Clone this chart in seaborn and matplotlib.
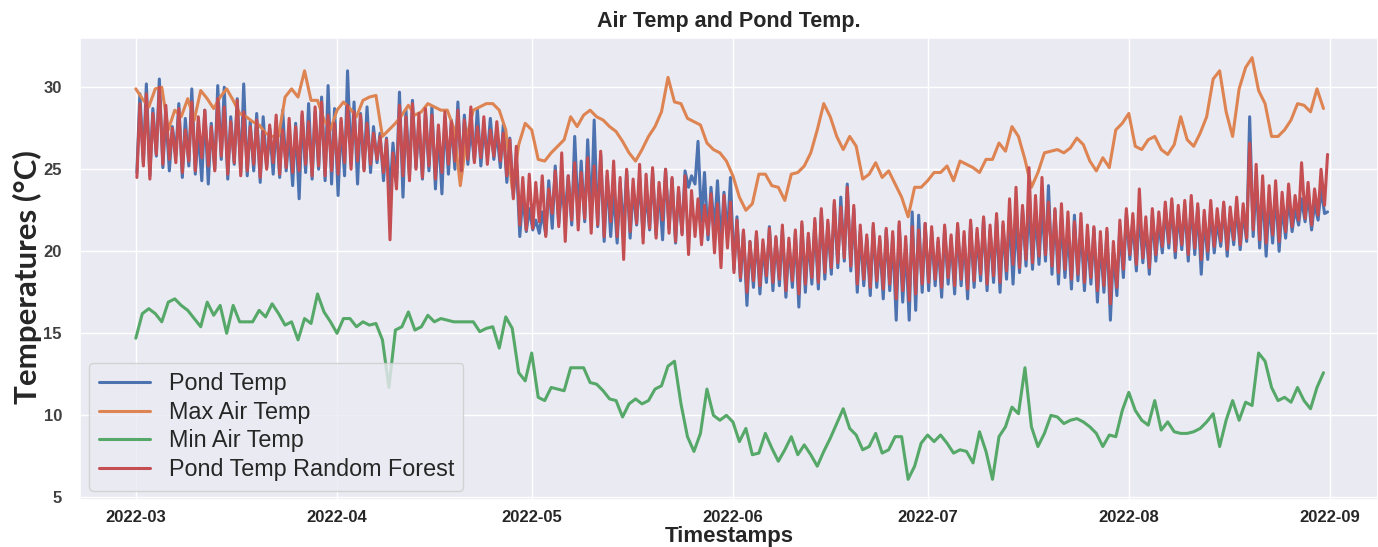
import pandas as pd
import matplotlib
matplotlib.use('Agg')
import matplotlib.pyplot as plt
import matplotlib.dates as mdates
import seaborn as sns

# daily values, 2022-03-01 .. 2022-08-31 (one list chunk per month)
max_air = [29.9, 29.3, 28.8, 29.9, 30.0, 27.4, 28.6, 28.2, 29.3, 28.0, 29.8, 29.3, 28.7, 29.4, 29.9, 29.2,
           28.4, 28.2, 27.9, 27.7, 27.2, 27.0, 27.0, 29.4, 29.9, 29.4, 31.0, 29.2, 29.2, 28.0, 27.4,
           28.6, 29.1, 28.7, 28.2, 29.2, 29.4, 29.5, 27.0, 27.4, 27.8, 28.3, 28.9, 28.3, 28.5, 29.0,
           28.8, 28.6, 28.6, 27.5, 24.0, 27.0, 28.6, 28.8, 29.0, 29.0, 28.6, 27.4, 23.8, 26.5, 27.8,
           27.4, 25.6, 25.5, 26.0, 26.4, 26.8, 28.2, 27.6, 28.3, 28.6, 28.2, 28.0, 27.6, 27.3, 26.7, 26.0,
           25.5, 26.2, 27.0, 27.6, 28.5, 30.6, 29.1, 29.0, 28.1, 27.9, 27.7, 26.6, 26.2, 26.0, 25.5,
           24.6, 23.3, 22.5, 22.9, 24.7, 24.7, 24.0, 23.9, 23.1, 24.7, 24.8, 25.2, 26.0, 27.4, 29.0,
           28.2, 27.0, 26.2, 27.0, 26.4, 24.4, 24.7, 25.4, 24.5, 24.9, 24.1, 23.3, 22.1, 23.9, 23.9,
           24.3, 24.8, 24.8, 25.2, 24.3, 25.5, 25.3, 25.1, 24.8, 25.6, 25.6, 26.6, 26.1, 27.6, 27.0, 25.6,
           23.9, 24.8, 26.0, 26.1, 26.2, 26.0, 26.3, 26.9, 26.5, 25.5, 24.9, 25.7, 25.1, 27.4, 27.8,
           28.4, 26.4, 26.2, 26.8, 27.0, 26.2, 25.9, 26.5, 28.2, 26.8, 26.4, 27.2, 28.2, 30.5, 31.0, 28.5,
           27.0, 29.9, 31.2, 31.8, 29.8, 29.0, 27.0, 27.0, 27.4, 28.0, 29.0, 28.9, 28.5, 29.9, 28.7]

min_air = [14.7, 16.2, 16.5, 16.2, 15.7, 16.9, 17.1, 16.7, 16.4, 15.9, 15.4, 16.9, 16.1, 16.7, 15.0, 16.7,
           15.7, 15.7, 15.7, 16.4, 16.0, 16.8, 16.2, 15.5, 15.7, 14.6, 15.9, 15.6, 17.4, 16.3, 15.7,
           15.0, 15.9, 15.9, 15.4, 15.7, 15.5, 15.6, 14.6, 11.7, 15.2, 15.4, 16.3, 15.2, 15.4, 16.1,
           15.7, 15.9, 15.8, 15.7, 15.7, 15.7, 15.7, 15.1, 15.3, 15.4, 14.1, 16.0, 15.3, 12.6, 12.1,
           13.8, 11.1, 10.9, 11.7, 11.6, 11.5, 12.9, 12.9, 12.9, 12.0, 11.9, 11.5, 11.0, 10.9, 9.9, 10.7,
           11.0, 10.7, 10.9, 11.6, 11.8, 13.0, 13.3, 10.7, 8.7, 7.8, 8.9, 11.6, 10.0, 9.7, 10.0,
           9.6, 8.4, 9.2, 7.6, 7.7, 8.9, 8.0, 7.2, 7.9, 8.7, 7.6, 8.2, 7.6, 6.9, 7.8,
           8.6, 9.5, 10.4, 9.2, 8.8, 7.9, 8.1, 8.9, 7.7, 7.9, 8.7, 8.7, 6.1, 6.9, 8.3,
           8.8, 8.4, 8.8, 8.3, 7.7, 7.9, 7.8, 7.1, 9.0, 7.8, 6.1, 8.7, 9.3, 10.5, 10.1, 12.9,
           9.3, 8.1, 8.9, 10.0, 9.9, 9.5, 9.7, 9.8, 9.6, 9.3, 8.9, 8.1, 8.8, 8.7, 10.3,
           11.4, 10.3, 9.7, 9.4, 10.9, 9.1, 9.6, 9.0, 8.9, 8.9, 9.0, 9.2, 9.6, 10.1, 8.1, 9.7,
           10.9, 9.7, 10.8, 10.6, 13.8, 13.3, 11.7, 10.9, 11.1, 10.8, 11.7, 10.9, 10.4, 11.7, 12.6]

# pond sensor: afternoon high / early morning low per day
pond_hi = [29.6, 30.2, 28.7, 30.5, 28.4, 27.6, 29.0, 28.1, 29.9, 27.3, 28.6, 27.8, 30.1, 30.0, 28.2, 29.3,
           30.2, 27.9, 28.4, 28.2, 27.5, 27.9, 28.6, 27.2, 27.8, 28.3, 29.0, 28.5, 29.4, 30.1, 28.7,
           27.9, 31.0, 29.1, 28.4, 28.8, 27.6, 27.2, 26.9, 26.6, 29.7, 28.6, 29.2, 27.9, 28.5, 28.8,
           27.4, 28.2, 28.0, 29.1, 28.3, 27.6, 28.7, 27.5, 28.1, 27.3, 27.7, 26.9, 25.6, 23.4, 22.6,
           21.9, 22.4, 24.3, 25.2, 23.8, 24.6, 27.0, 25.5, 26.8, 28.0, 25.9, 24.6, 23.7, 24.2, 24.9, 23.8,
           24.5, 23.6, 24.8, 23.9, 25.0, 24.4, 23.7, 24.9, 24.6, 26.7, 24.8, 23.9, 24.3, 23.6, 24.5,
           22.1, 21.2, 20.6, 21.0, 20.4, 21.5, 20.8, 21.3, 20.5, 21.1, 21.6, 20.9, 21.8, 22.4, 21.7,
           22.9, 23.3, 24.1, 22.6, 21.2, 20.8, 21.5, 20.7, 21.3, 20.9, 21.6, 20.4, 22.4, 22.2, 21.7,
           21.2, 20.6, 21.4, 20.8, 21.5, 20.9, 21.7, 21.1, 22.0, 21.3, 22.0, 21.6, 22.3, 21.8, 22.6, 23.0,
           22.4, 22.8, 24.0, 22.5, 22.1, 21.4, 22.2, 21.6, 21.0, 21.4, 20.6, 21.2, 20.0, 21.5, 22.3,
           21.9, 22.5, 21.6, 22.2, 21.8, 22.6, 22.9, 22.4, 22.8, 23.0, 22.7, 22.1, 22.6, 21.9, 22.8, 22.3,
           22.7, 22.4, 28.2, 24.3, 23.8, 23.1, 23.6, 22.8, 23.3, 22.6, 23.2, 23.5, 22.9, 23.8, 22.4]
pond_lo = [24.8, 25.4, 24.6, 25.8, 25.1, 24.9, 25.9, 24.5, 25.2, 24.7, 24.3, 24.1, 25.0, 25.6, 24.4, 25.3,
           24.8, 24.6, 24.9, 24.2, 25.1, 24.7, 24.5, 24.9, 24.0, 23.2, 24.8, 24.4, 25.0, 24.3, 24.1,
           23.4, 24.6, 25.3, 24.1, 25.0, 24.8, 25.4, 24.3, 23.5, 24.2, 23.3, 24.6, 25.1, 24.4, 24.9,
           23.8, 23.5, 24.7, 25.0, 24.6, 25.3, 25.5, 25.2, 25.8, 25.6, 25.1, 24.2, 23.4, 20.9, 21.2,
           21.3, 21.1, 21.0, 21.4, 21.7, 22.3, 21.6, 22.1, 21.8, 22.0, 21.5, 20.6, 20.9, 20.5, 21.2, 20.8,
           21.6, 20.9, 21.3, 21.0, 20.7, 21.4, 20.5, 21.1, 23.9, 24.1, 21.8, 20.7, 21.2, 20.4, 21.0,
           18.9, 18.2, 16.7, 17.8, 17.4, 18.1, 17.6, 17.9, 17.2, 17.8, 16.6, 17.5, 18.0, 17.7, 18.3,
           18.6, 19.0, 19.4, 18.8, 17.5, 17.9, 17.3, 17.8, 17.1, 17.6, 15.8, 16.9, 15.8, 16.4, 17.5,
           17.6, 17.9, 17.2, 18.0, 17.4, 17.9, 17.1, 17.8, 18.2, 17.6, 18.1, 17.5, 18.3, 18.0, 18.7, 19.1,
           18.9, 19.2, 19.4, 18.6, 18.0, 18.4, 17.7, 18.2, 17.6, 18.0, 16.9, 17.5, 15.8, 17.3, 18.4,
           19.5, 18.8, 19.3, 18.6, 19.4, 19.9, 20.2, 19.6, 20.1, 19.4, 19.8, 18.6, 19.5, 19.9, 20.3, 19.7,
           20.4, 20.1, 20.6, 20.9, 20.2, 19.7, 20.5, 20.0, 20.8, 21.2, 21.6, 21.8, 21.3, 21.9, 22.3]

# random forest prediction of the pond temperature
rf_hi = [29.0, 29.6, 28.4, 30.0, 28.9, 27.5, 28.7, 27.4, 29.1, 28.2, 28.6, 27.6, 29.3, 28.8, 27.9, 29.2,
         28.5, 27.6, 28.0, 27.3, 27.7, 28.3, 27.4, 28.1, 27.6, 28.5, 27.9, 28.8, 29.1, 28.3, 27.8,
         28.1, 28.9, 28.5, 28.3, 27.8, 27.2, 27.0, 26.8, 26.0, 28.9, 28.2, 29.0, 28.4, 28.7, 28.3,
         27.7, 28.5, 27.9, 28.6, 28.0, 28.8, 27.6, 28.2, 27.4, 27.9, 27.2, 26.8, 26.4, 24.5, 24.7,
         24.2, 24.6, 23.8, 24.9, 26.0, 24.6, 25.4, 24.8, 25.7, 25.2, 26.1, 24.9, 25.5, 24.5, 25.0, 24.4,
         25.3, 24.7, 25.1, 24.2, 25.0, 24.5, 23.9, 24.6, 23.7, 23.2, 22.8, 23.5, 22.9, 23.4, 23.0,
         21.9, 21.3, 20.6, 21.2, 20.7, 21.4, 20.9, 21.6, 20.8, 21.3, 21.8, 21.1, 22.0, 22.6, 21.9,
         23.1, 22.7, 23.9, 22.8, 21.6, 21.0, 21.7, 20.9, 21.4, 21.2, 21.8, 20.9, 21.5, 21.3, 21.7,
         21.5, 20.8, 21.6, 21.0, 21.7, 21.2, 21.9, 21.4, 22.1, 21.6, 22.3, 21.8, 23.2, 23.9, 22.8, 25.1,
         23.4, 24.5, 23.0, 22.6, 22.9, 22.4, 21.8, 22.3, 21.6, 21.5, 21.2, 21.4, 20.6, 21.9, 22.6,
         22.3, 23.8, 22.1, 22.6, 22.4, 23.0, 23.2, 22.8, 23.1, 23.4, 22.9, 22.5, 23.1, 22.6, 23.0, 22.7,
         23.3, 22.9, 26.6, 25.3, 24.6, 24.0, 24.3, 23.6, 24.1, 23.4, 25.4, 24.2, 23.8, 25.0, 25.9]
rf_lo = [24.5, 25.2, 24.4, 25.9, 25.3, 25.6, 25.4, 24.8, 25.5, 24.9, 25.7, 25.2, 24.9, 25.8, 24.7, 25.4,
         24.6, 24.9, 25.3, 24.5, 25.0, 25.4, 24.7, 25.1, 24.8, 24.9, 25.3, 24.6, 25.2, 24.6, 24.9,
         24.7, 25.4, 25.0, 25.5, 24.9, 25.3, 25.6, 24.8, 20.7, 23.8, 24.6, 24.3, 25.0, 24.5, 25.2,
         24.4, 24.8, 25.3, 25.5, 24.9, 25.6, 25.4, 25.7, 25.3, 25.8, 25.5, 24.6, 23.2, 21.6, 21.3,
         21.4, 21.8, 20.9, 22.3, 21.5, 20.6, 21.9, 21.3, 22.0, 21.1, 21.6, 20.9, 21.8, 20.9, 19.5, 21.2,
         21.7, 20.5, 21.4, 20.8, 21.9, 21.1, 20.6, 21.0, 19.8, 20.9, 20.4, 21.0, 19.9, 19.0, 20.2,
         18.7, 18.4, 17.5, 18.2, 17.9, 18.5, 18.1, 18.3, 17.6, 18.2, 17.4, 18.0, 18.4, 18.1, 18.7,
         19.0, 19.3, 19.6, 19.1, 18.0, 18.3, 17.8, 18.2, 17.7, 18.0, 17.1, 17.6, 17.0, 17.4, 18.0,
         18.1, 18.3, 17.8, 18.4, 17.9, 18.3, 17.7, 18.2, 18.6, 18.0, 18.5, 18.1, 18.8, 19.2, 19.0, 19.5,
         19.3, 19.7, 19.8, 19.1, 18.7, 18.9, 18.3, 18.6, 18.1, 18.4, 17.6, 17.9, 16.8, 17.8, 18.9,
         19.8, 19.2, 19.6, 19.0, 19.8, 20.3, 20.5, 20.0, 20.4, 19.8, 20.2, 19.5, 20.0, 20.3, 20.6, 20.1,
         20.7, 20.4, 20.8, 21.3, 20.7, 20.5, 21.0, 20.6, 21.2, 21.5, 21.9, 22.0, 21.6, 22.2, 22.8]

days = pd.date_range('2022-03-01', periods=len(max_air), freq='D')

# interleave the morning low and afternoon high of each day
pond_times, pond_vals, rf_vals = [], [], []
for i, d in enumerate(days):
    pond_times += [d + pd.Timedelta(hours=4), d + pd.Timedelta(hours=15)]
    pond_vals += [pond_lo[i], pond_hi[i]]
    rf_vals += [rf_lo[i], rf_hi[i]]

pond_df = pd.DataFrame({'Timestamp': pond_times, 'Pond Temp': pond_vals,
                        'Pond Temp Random Forest': rf_vals})
air_df = pd.DataFrame({'Timestamp': days, 'Max Air Temp': max_air, 'Min Air Temp': min_air})

sns.set_theme(style='darkgrid')
plt.rcParams['font.family'] = ['Liberation Sans', 'DejaVu Sans']
colors = sns.color_palette('deep')

fig = plt.figure(figsize=(13.78, 5.47), dpi=100)
ax = fig.add_axes([80 / 1378, 47 / 547, 1298 / 1378, 462 / 547])

sns.lineplot(data=pond_df, x='Timestamp', y='Pond Temp', color=colors[0], lw=2.2, label='Pond Temp', ax=ax)
sns.lineplot(data=air_df, x='Timestamp', y='Max Air Temp', color=colors[1], lw=2.2, label='Max Air Temp', ax=ax)
sns.lineplot(data=air_df, x='Timestamp', y='Min Air Temp', color=colors[2], lw=2.2, label='Min Air Temp', ax=ax)
sns.lineplot(data=pond_df, x='Timestamp', y='Pond Temp Random Forest', color=colors[3], lw=2.2,
             label='Pond Temp Random Forest', ax=ax)

ax.set_xlim(days[0] - pd.Timedelta(days=8.6), days[0] + pd.Timedelta(days=191.4))
ax.set_ylim(4.84, 33.0)
ax.set_yticks([5, 10, 15, 20, 25, 30])
ax.xaxis.set_major_locator(mdates.MonthLocator())
ax.xaxis.set_major_formatter(mdates.DateFormatter('%Y-%m'))
ax.tick_params(axis='y', pad=7, labelsize=12, labelcolor='0.25')
ax.tick_params(axis='x', pad=1, labelsize=12, labelcolor='0.15')
plt.setp(ax.get_xticklabels() + ax.get_yticklabels(), fontweight='bold')

ax.set_title('Air Temp and Pond Temp.', fontsize=15.5, fontweight='bold', pad=8)
ax.set_xlabel('Timestamps', fontsize=16, fontweight='bold', labelpad=1)
ax.set_ylabel('')
fig.text(27 / 1378, 1 - 277 / 547, 'Temperatures (°C)', rotation=90, ha='center', va='center',
         fontsize=22.5, fontweight='bold', family=['Lato', 'DejaVu Sans'])

ax.legend(loc='lower left', fontsize=16.8, labelspacing=0.25, handlelength=2.2, borderaxespad=0.4)

fig.savefig('out.png', dpi=100)
